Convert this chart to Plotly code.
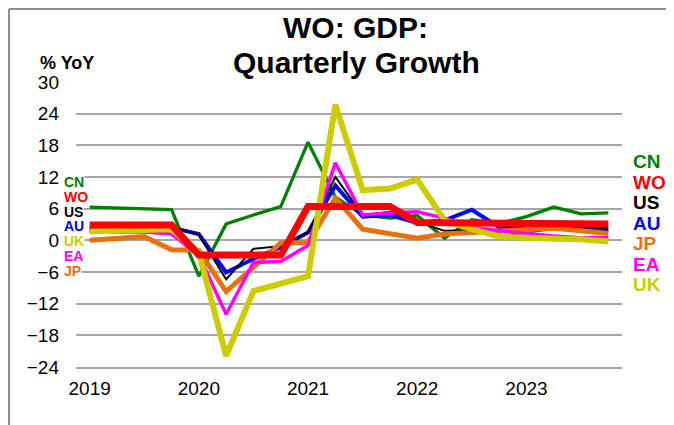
import plotly.graph_objects as go

quarters = [f"{y}Q{q}" for y in range(2019, 2024) for q in range(1, 5)]
year_ticks = ["2019Q1", "2020Q1", "2021Q1", "2022Q1", "2023Q1"]
year_labels = ["2019", "2020", "2021", "2022", "2023"]
y_ticks = [-24, -18, -12, -6, 0, 6, 12, 18, 24, 30]

CN = [6.3, 6.1, 6.0, 5.8, -6.8, 3.1, 4.8, 6.4, 18.6, 8.2, 4.8, 4.2, 4.7, 0.4, 3.9, 3.2, 4.5, 6.3, 5.0, 5.2]
WO = [2.9, 2.9, 2.9, 2.9, -2.8, -2.8, -2.8, -2.8, 6.4, 6.4, 6.4, 6.4, 3.4, 3.4, 3.4, 3.4, 3.1, 3.1, 3.1, 3.1]
US = [2.3, 2.3, 2.5, 2.7, 1.0, -7.4, -1.6, -1.1, 1.6, 12.0, 4.8, 5.4, 3.5, 1.8, 1.9, 0.7, 1.5, 2.2, 2.5, 2.4]
AU = [2.2, 2.1, 2.1, 2.4, 1.2, -6.1, -3.5, -1.3, 1.5, 10.4, 4.5, 4.8, 3.3, 3.8, 5.8, 2.5, 2.4, 2.3, 2.1, 1.8]
JP = [0.0, 0.3, 0.7, -1.8, -1.9, -9.7, -5.0, -0.5, -0.4, 8.0, 2.1, 1.3, 0.4, 1.2, 1.5, 1.6, 1.9, 2.3, 1.8, 1.3]
EA = [1.8, 1.6, 1.6, 1.2, -2.8, -14.0, -4.2, -4.0, -1.0, 14.7, 4.8, 5.2, 5.4, 4.2, 2.5, 1.8, 1.3, 0.8, 0.5, 0.5]
UK = [1.7, 1.8, 2.0, 2.1, -2.3, -21.9, -9.6, -8.3, -6.8, 25.7, 9.5, 9.8, 11.5, 3.8, 2.1, 0.7, 0.4, 0.3, 0.2, -0.2]

colors = {"CN": "#008000", "WO": "#FF0000", "US": "#000000", "AU": "#0000FF",
          "JP": "#E8700E", "EA": "#FF00FF", "UK": "#CCCC00"}
widths = {"CN": 3.3, "WO": 7, "US": 2, "AU": 4, "JP": 5, "EA": 3.5, "UK": 6}
series = {"CN": CN, "WO": WO, "US": US, "AU": AU, "JP": JP, "EA": EA, "UK": UK}
draw_order = ["CN", "AU", "US", "JP", "EA", "UK", "WO"]

FONT = "Liberation Sans, Arial, sans-serif"
OFF = 8  # page body margin offset
W, H = 674 - OFF, 425 - OFF
L, R, T, B = 76 - OFF, 622 - OFF, 82 - OFF, 367 - OFF

fig = go.Figure()
for name in draw_order:
    fig.add_trace(go.Scatter(
        x=quarters, y=series[name], mode="lines", name=name,
        line=dict(color=colors[name], width=widths[name]),
        showlegend=False, hoverinfo="skip"))

def px(xp):
    return (xp - OFF - L) / (R - L)

def py(yp):
    return (B - (yp - OFF)) / (B - T)

annotations = []
annotations.append(dict(text="<b>WO: GDP:</b>", x=px(355), y=py(27), xref="paper", yref="paper",
                        showarrow=False, xanchor="center", yanchor="middle",
                        font=dict(family=FONT, size=30, color="black")))
annotations.append(dict(text="<b>Quarterly Growth</b>", x=px(356), y=py(62), xref="paper", yref="paper",
                        showarrow=False, xanchor="center", yanchor="middle",
                        font=dict(family=FONT, size=30, color="black")))
annotations.append(dict(text="<b>% YoY</b>", x=px(38), y=py(63), xref="paper", yref="paper",
                        showarrow=False, xanchor="left", yanchor="middle",
                        font=dict(family=FONT, size=18, color="black")))

left_order = ["CN", "WO", "US", "AU", "UK", "EA", "JP"]
for i, name in enumerate(left_order):
    annotations.append(dict(text=f"<b>{name}</b>", x=px(63), y=py(181.5 + 14.8 * i),
                            xref="paper", yref="paper", showarrow=False, height=13,
                            xanchor="left", yanchor="middle", bgcolor="white", borderpad=0,
                            font=dict(family=FONT, size=14, color=colors[name])))

right_order = ["CN", "WO", "US", "AU", "JP", "EA", "UK"]
for i, name in enumerate(right_order):
    annotations.append(dict(text=f"<b>{name}</b>", x=px(631), y=py(161.7 + 20.5 * i),
                            xref="paper", yref="paper", showarrow=False,
                            xanchor="left", yanchor="middle",
                            font=dict(family=FONT, size=19, color=colors[name])))

shapes = [
    dict(type="line", xref="paper", yref="paper", x0=px(9), x1=px(9), y0=py(9), y1=py(440),
         line=dict(color="#8c8c8c", width=2)),
    dict(type="line", xref="paper", yref="paper", x0=px(9), x1=px(690), y0=py(9), y1=py(9),
         line=dict(color="#8c8c8c", width=2)),
]

fig.update_layout(
    width=W, height=H,
    margin=dict(l=L, r=W - R, t=T, b=H - B, pad=0),
    paper_bgcolor="white", plot_bgcolor="white",
    annotations=annotations, shapes=shapes,
    font=dict(family=FONT, size=19, color="black"),
    xaxis=dict(type="category", range=[-0.5, 19.5], tickmode="array",
               tickvals=year_ticks, ticktext=year_labels, showgrid=False,
               ticks="", showline=True, linecolor="#a6a6a6", linewidth=2,
               ticklabelstandoff=3, tickfont=dict(family=FONT, size=19, color="black"),
               fixedrange=True),
    yaxis=dict(range=[-24, 30], tickmode="array", tickvals=y_ticks,
               showgrid=True, gridcolor="#a6a6a6", gridwidth=2, zeroline=False,
               ticks="", showline=False, ticklabelstandoff=16,
               tickfont=dict(family=FONT, size=19, color="black"), fixedrange=True),
)

fig.write_html("out.html")
